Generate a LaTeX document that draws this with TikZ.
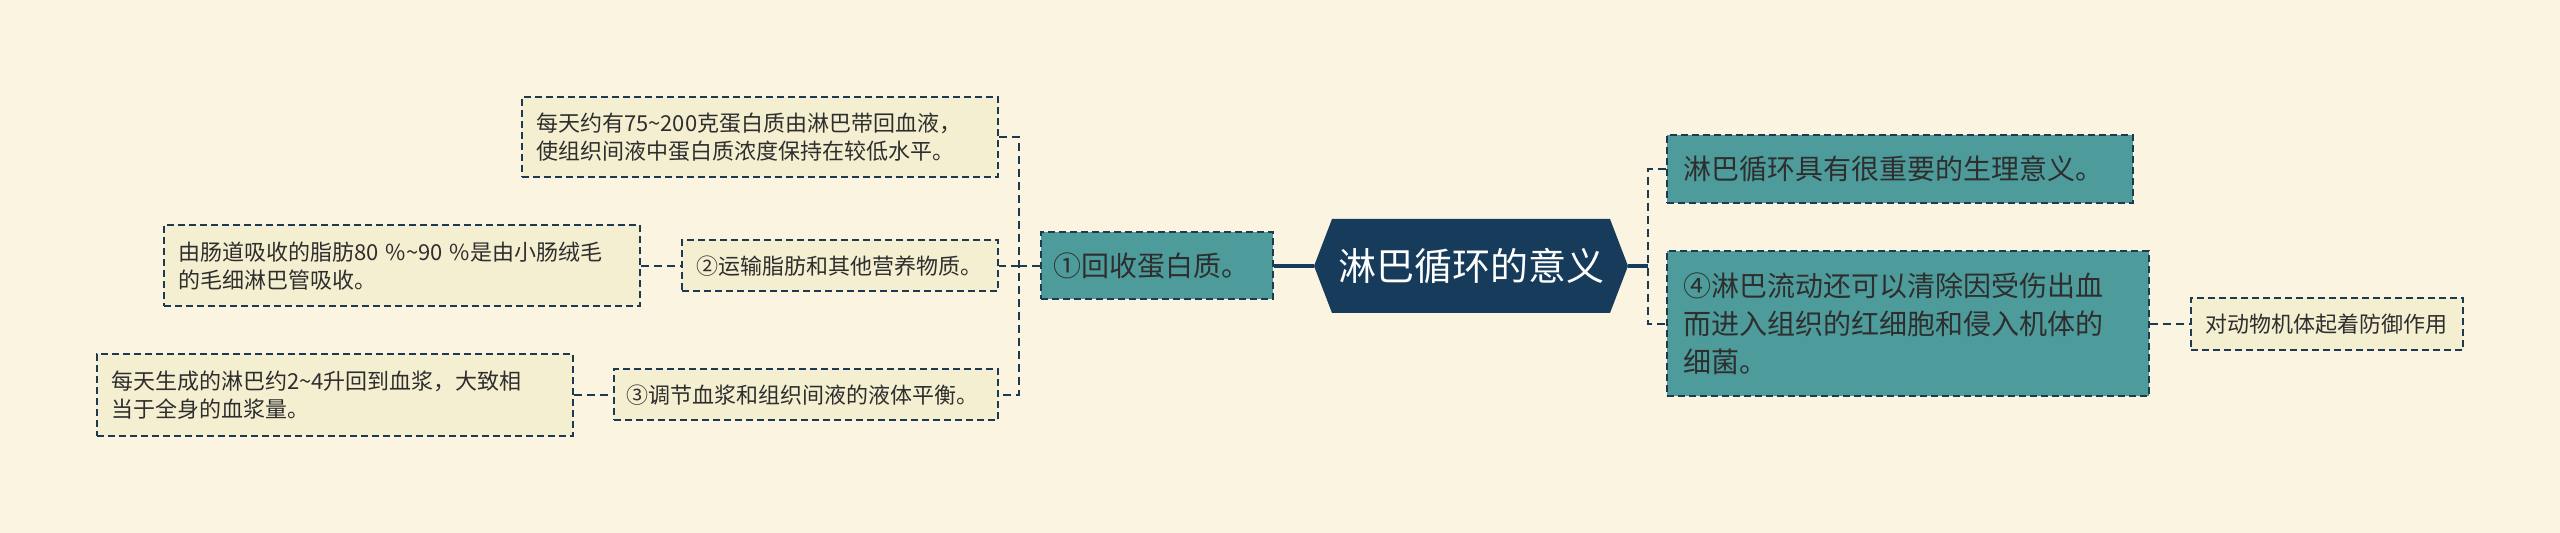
\documentclass[tikz,border=0pt]{standalone}
\usepackage{fontspec}
\setmainfont{Noto Sans CJK SC}
\definecolor{bgc}{HTML}{FAF4E0}
\definecolor{lightc}{HTML}{F5EFD1}
\definecolor{tealc}{HTML}{4E9B9B}
\definecolor{navy}{HTML}{1E3A52}
\definecolor{rootc}{HTML}{173C5B}
\definecolor{txt}{HTML}{2E2E2E}
\begin{document}
\begin{tikzpicture}[x=0.5pt,y=-0.5pt,
  conn/.style={draw=navy,line width=1pt,dash pattern=on 4pt off 2.5pt},
  trunk/.style={draw=rootc,line width=1.6pt},
  boxbase/.style={draw=navy,line width=1pt,dash pattern=on 3.5pt off 2pt,inner ysep=0pt,align=left,text=txt,anchor=center},
  lightbox/.style={boxbase,fill=lightc,font=\fontsize{11}{14}\selectfont},
  tealbox/.style={boxbase,fill=tealc,font=\fontsize{14}{19}\selectfont},
  roottext/.style={inner sep=0pt,text=white,font=\fontsize{19}{22}\selectfont,anchor=center},
]
\fill[bgc] (0,0) rectangle (2560,533);
\useasboundingbox (0,0) rectangle (2560,533);

% left side
\node[lightbox,minimum width=238pt,minimum height=40pt,text width=224pt,inner xsep=7pt] (a) at (760,137)
  {每天约有75\string~200克蛋白质由淋巴带回血液，\\使组织间液中蛋白质浓度保持在较低水平。};
\node[lightbox,minimum width=238pt,minimum height=40.5pt,text width=224pt,inner xsep=7pt] (b) at (402,266)
  {由肠道吸收的脂肪80 \%\string~90 \%是由小肠绒毛\\的毛细淋巴管吸收。};
\node[lightbox,minimum width=158pt,minimum height=25.5pt,text width=144pt,inner xsep=7pt] (c) at (840,266)
  {②运输脂肪和其他营养物质。};
\node[lightbox,minimum width=238pt,minimum height=41pt,text width=224pt,inner xsep=7pt] (d) at (335,395)
  {每天生成的淋巴约2\string~4升回到血浆，大致相\\当于全身的血浆量。};
\node[lightbox,minimum width=192pt,minimum height=25.5pt,text width=180pt,inner xsep=6pt] (e) at (806,395)
  {③调节血浆和组织间液的液体平衡。};
\node[tealbox,minimum width=116pt,minimum height=33.5pt,text width=104pt,inner xsep=6pt] (n1) at (1157,266)
  {①回收蛋白质。};

% root
\fill[rootc] (1314,266) -- (1332,219) -- (1610,219) -- (1628,266) -- (1610,313) -- (1332,313) -- cycle;
\node[roottext,minimum width=157pt,minimum height=47pt] (root) at (1471,266) {淋巴循环的意义};

% right side
\node[tealbox,minimum width=233pt,minimum height=34pt,text width=217pt,inner xsep=8pt] (f) at (1900,169)
  {淋巴循环具有很重要的生理意义。};
\node[tealbox,minimum width=241pt,minimum height=72.5pt,text width=225pt,inner xsep=8pt] (g) at (1908,324)
  {④淋巴流动还可以清除因受伤出血\\而进入组织的红细胞和侵入机体的\\细菌。};
\node[lightbox,minimum width=136pt,minimum height=26pt,text width=122pt,inner xsep=7pt] (h) at (2327,324)
  {对动物机体起着防御作用};

% connectors
\coordinate (ls) at (1019,266);
\coordinate (rs) at (1648,266);
\draw[trunk] (n1.east) -- (root.west);
\draw[conn] (n1.west) -- (ls);
\draw[conn] (a.east) -| (ls |- e.east) -- (e.east);
\draw[conn] (ls) -- (c.east);
\draw[conn] (b.east) -- (c.west);
\draw[conn] (d.east) -- (e.west);
\draw[trunk] (root.east) -- (rs);
\draw[conn] (f.west) -| (rs |- g.west) -- (g.west);
\draw[conn] (g.east) -- (h.west);
\end{tikzpicture}
\end{document}
